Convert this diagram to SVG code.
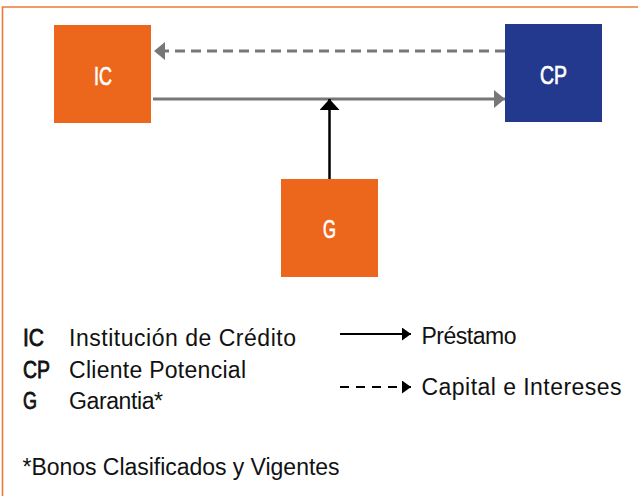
<svg xmlns="http://www.w3.org/2000/svg" width="638" height="496" viewBox="0 0 638 496">
<style>
.frame{stroke:#EE7A37;stroke-width:1.6;fill:none}
.box-o{fill:#EC671C}
.box-b{fill:#22398E}
.lbl{font-family:"Liberation Sans",Arial,sans-serif;font-size:25px;fill:#FFFFFF;stroke:#FFFFFF;stroke-width:0.7;text-anchor:middle}
.leg{font-family:"Liberation Sans",Arial,sans-serif;font-size:23px;fill:#111111}
.abbr{stroke:#111111;stroke-width:0.8}
.gray{stroke:#777777;stroke-width:3;fill:none}
.blk{stroke:#000000;stroke-width:2.5;fill:none}
.lblk{stroke:#000000;stroke-width:2;fill:none}
</style>
<defs>
<marker id="hg" viewBox="0 0 11 18" refX="11" refY="9" markerWidth="11" markerHeight="18" markerUnits="userSpaceOnUse" orient="auto"><path d="M0,0 L11,9 L0,18 Z" fill="#777777"/></marker>
<marker id="hb" viewBox="0 0 11 20" refX="11" refY="10" markerWidth="11" markerHeight="20" markerUnits="userSpaceOnUse" orient="auto"><path d="M0,0 L11,10 L0,20 Z" fill="#000000"/></marker>
<marker id="hl" viewBox="0 0 9 13" refX="9" refY="6.5" markerWidth="9" markerHeight="13" markerUnits="userSpaceOnUse" orient="auto"><path d="M0,0 L9,6.5 L0,13 Z" fill="#000000"/></marker>
</defs>
<rect width="638" height="496" fill="#FFFFFF"/>
<path class="frame" d="M2.5,496 L2.5,7 L638,7"/>
<g id="connectors">
<line class="gray" x1="505" y1="51" x2="154" y2="51" stroke-dasharray="10,6" marker-end="url(#hg)"/>
<line class="gray" x1="153" y1="99" x2="505" y2="99" marker-end="url(#hg)"/>
<line class="blk" x1="329.5" y1="179" x2="329.5" y2="99" marker-end="url(#hb)"/>
</g>
<g id="node-IC">
<rect class="box-o" x="54" y="25" width="97" height="98"/>
<text class="lbl" x="103" y="84.5" textLength="18" lengthAdjust="spacingAndGlyphs">IC</text>
</g>
<g id="node-CP">
<rect class="box-b" x="505" y="24" width="97" height="98"/>
<text class="lbl" x="553.5" y="84" textLength="27" lengthAdjust="spacingAndGlyphs">CP</text>
</g>
<g id="node-G">
<rect class="box-o" x="281" y="179" width="97" height="98"/>
<text class="lbl" x="329.5" y="237.5" textLength="13" lengthAdjust="spacingAndGlyphs">G</text>
</g>
<g id="legend">
<text class="leg abbr" x="23" y="346" textLength="21" lengthAdjust="spacingAndGlyphs">IC</text>
<text class="leg abbr" x="23" y="377.5" textLength="27" lengthAdjust="spacingAndGlyphs">CP</text>
<text class="leg abbr" x="23" y="409" textLength="14" lengthAdjust="spacingAndGlyphs">G</text>
<text class="leg" x="69" y="346" textLength="227" lengthAdjust="spacing">Institución de Crédito</text>
<text class="leg" x="69" y="377.5" textLength="177" lengthAdjust="spacing">Cliente Potencial</text>
<text class="leg" x="69" y="409" textLength="94" lengthAdjust="spacing">Garantia*</text>
<line class="lblk" x1="340" y1="334" x2="411" y2="334" marker-end="url(#hl)"/>
<line class="lblk" x1="340" y1="387" x2="411" y2="387" stroke-dasharray="9,7" marker-end="url(#hl)"/>
<text class="leg" x="421.5" y="343.5" textLength="95" lengthAdjust="spacing">Préstamo</text>
<text class="leg" x="421.5" y="395" textLength="200" lengthAdjust="spacing">Capital e Intereses</text>
<text class="leg" x="22.5" y="475" textLength="317" lengthAdjust="spacing">*Bonos Clasificados y Vigentes</text>
</g>
</svg>
